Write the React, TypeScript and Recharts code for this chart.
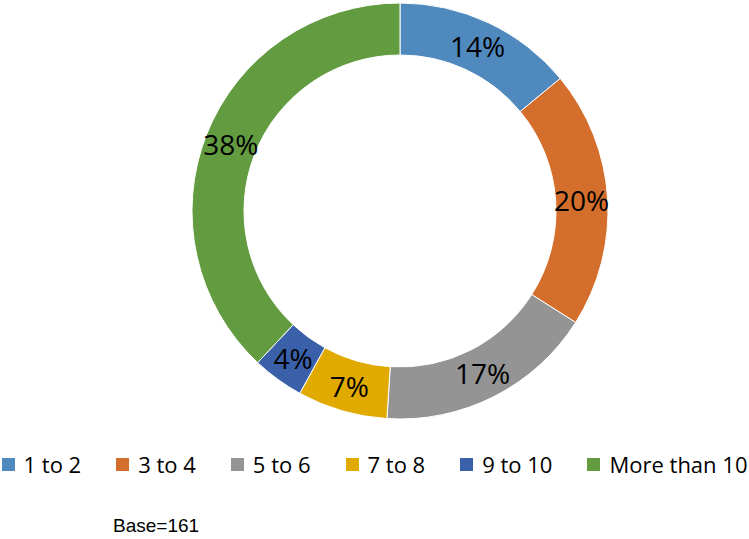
import React from "react";
import { PieChart, Pie, Cell, Legend } from "recharts";

const categories = ["1 to 2", "3 to 4", "5 to 6", "7 to 8", "9 to 10", "More than 10"];
const shares = [14, 20, 17, 7, 4, 38];
const colors = ["#4F89BD", "#D46E2C", "#949494", "#E1AA00", "#3A60AA", "#629B40"];
const baseNote = "Base=161";

const data = categories.map((name, i) => ({ name, value: shares[i] }));

const RAD = Math.PI / 180;

const renderLabel = (props: any) => {
  const { cx, cy, midAngle, innerRadius, outerRadius, value } = props;
  const r = (innerRadius + outerRadius) / 2;
  const x = cx + r * Math.cos(-midAngle * RAD);
  const y = cy + r * Math.sin(-midAngle * RAD);
  return (
    <text
      x={x}
      y={y}
      fill="#000"
      textAnchor="middle"
      dominantBaseline="central"
      fontFamily="'Open Sans', sans-serif"
      fontSize={28}
    >
      {`${value}%`}
    </text>
  );
};

const renderLegend = () => (
  <div
    style={{
      display: "flex",
      justifyContent: "center",
      alignItems: "center",
      fontFamily: "'Open Sans', sans-serif",
      fontSize: 22,
      color: "#000",
    }}
  >
    {categories.map((name, i) => (
      <div
        key={name}
        style={{
          display: "flex",
          alignItems: "center",
          marginRight: i < categories.length - 1 ? 35 : 0,
        }}
      >
        <span
          style={{
            display: "inline-block",
            width: 13,
            height: 13,
            background: colors[i],
            marginRight: 9,
          }}
        />
        <span style={{ lineHeight: "26px" }}>{name}</span>
      </div>
    ))}
  </div>
);

export default function App() {
  return (
    <div
      style={{
        position: "absolute",
        left: 0,
        top: 0,
        width: 749,
        height: 539,
        background: "#fff",
      }}
    >
      <PieChart width={749} height={539} margin={{ top: 0, right: 0, bottom: 0, left: 0 }}>
        <Pie
          data={data}
          dataKey="value"
          nameKey="name"
          cx={400}
          cy={211}
          innerRadius={156}
          outerRadius={208}
          startAngle={90}
          endAngle={-270}
          stroke="#fff"
          strokeWidth={1}
          label={renderLabel}
          labelLine={false}
          isAnimationActive={false}
        >
          {data.map((d, i) => (
            <Cell key={d.name} fill={colors[i]} />
          ))}
        </Pie>
        <Legend
          content={renderLegend}
          wrapperStyle={{ position: "absolute", top: 451, left: 0, width: 749 }}
        />
      </PieChart>
      <div
        style={{
          position: "absolute",
          left: 113,
          top: 515,
          fontFamily: "'Liberation Sans', Arial, sans-serif",
          fontSize: 19,
          color: "#000",
        }}
      >
        {baseNote}
      </div>
    </div>
  );
}
